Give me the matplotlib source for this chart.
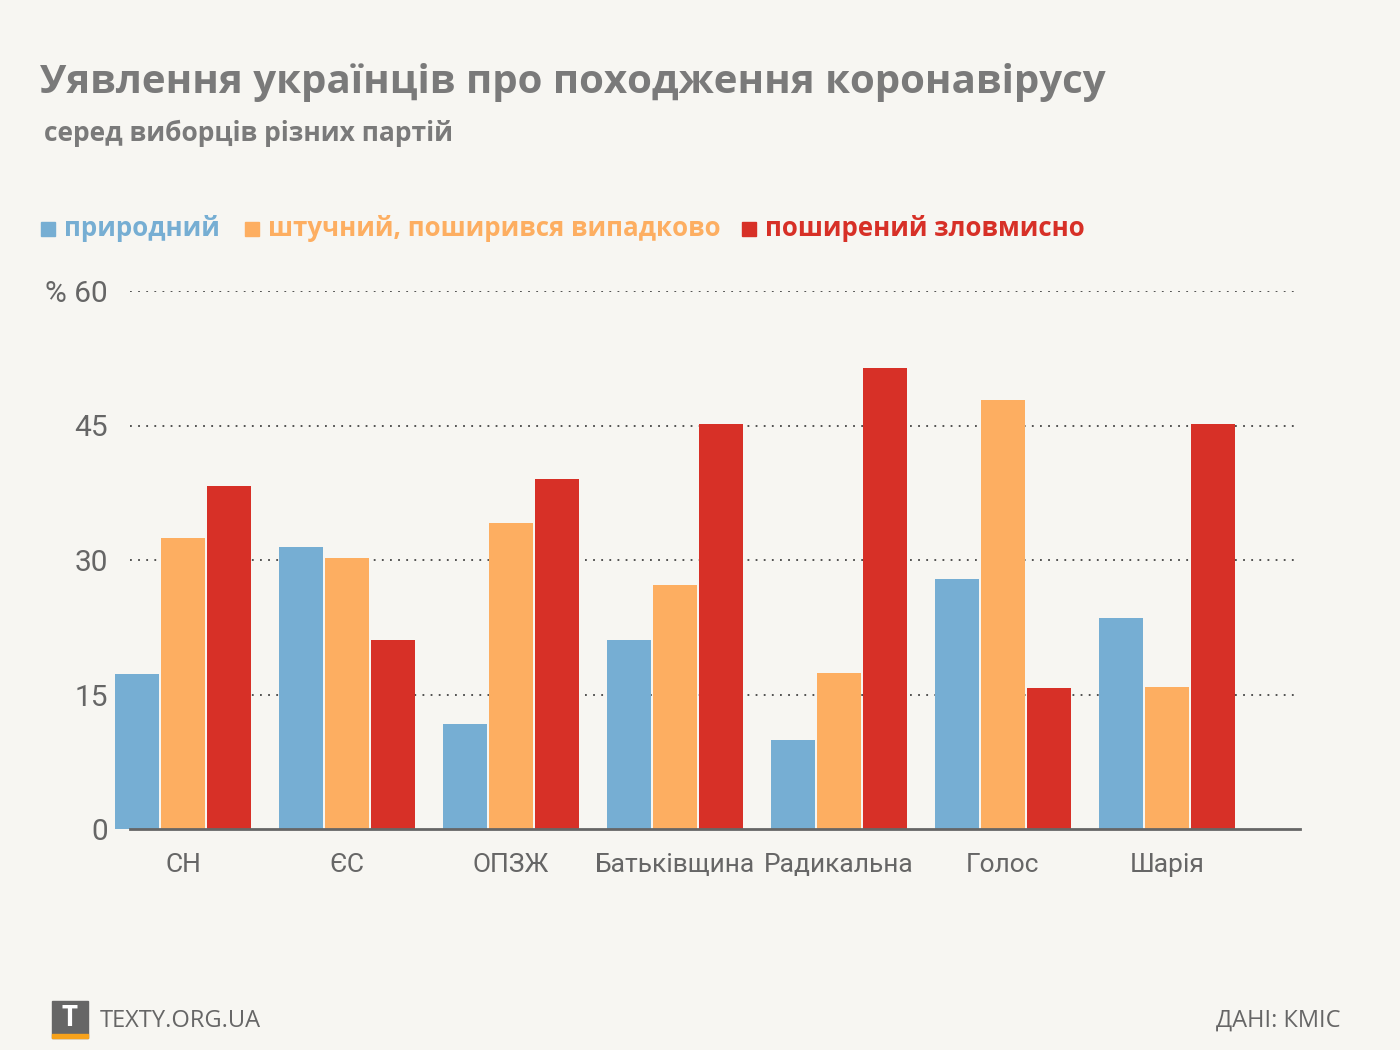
import matplotlib.pyplot as plt
import matplotlib.patches as mpatches
from matplotlib import font_manager
import numpy as np

# data
parties = ["СН", "ЄС", "ОПЗЖ", "Батьківщина", "Радикальна", "Голос", "Шарія"]
natural = [17.3, 31.4, 11.7, 21.1, 9.9, 27.9, 23.5]
artificial_accident = [32.5, 30.2, 34.1, 27.2, 17.4, 47.8, 15.8]
spread_on_purpose = [38.3, 21.1, 39.0, 45.2, 51.4, 15.7, 45.2]
series_names = ["природний", "штучний, поширився випадково", "поширений зловмисно"]
y_ticks = [0, 15, 30, 45, 60]
y_tick_labels = ["0", "15", "30", "45", "% 60"]

BG = "#f7f6f2"
GREY = "#666666"
colors = ["#76aed3", "#fdae61", "#d73027"]

installed = {f.name for f in font_manager.fontManager.ttflist}
narrow = "Roboto" if "Roboto" in installed else "DejaVu Sans"
bold_font = "Open Sans" if "Open Sans" in installed else "DejaVu Sans"

W, H = 1400, 1050
fig = plt.figure(figsize=(14, 10.5), dpi=100, facecolor=BG)

# axes frame: x pixels 130..1300, y pixels 291..829
ax = fig.add_axes([130 / W, 1 - 829 / H, (1300 - 130) / W, (829 - 291) / H])
ax.set_facecolor(BG)

step = 164.0
x = np.arange(len(parties))
bw = 44 / step
off = 46 / step
for k, vals in enumerate([natural, artificial_accident, spread_on_purpose]):
    ax.bar(x + (k - 1) * off, vals, width=bw, color=colors[k], zorder=3, clip_on=False)

ax.set_xlim((130 - 183) / step, (1300 - 183) / step)
ax.set_ylim(0, 60)
ax.set_yticks(y_ticks)
ax.set_yticklabels(y_tick_labels, fontsize=21.5, color=GREY, family=narrow)
ax.set_xticks(x)
ax.set_xticklabels(parties, fontsize=19, color=GREY, family=narrow)
ax.tick_params(axis="both", length=0)
ax.tick_params(axis="y", pad=16)
ax.tick_params(axis="x", pad=17)
for t in y_ticks[1:]:
    ax.axhline(t, color="#444444", lw=1.3, ls=(0, (1, 3.5)), zorder=1)
for s in ["top", "right", "left"]:
    ax.spines[s].set_visible(False)
ax.spines["bottom"].set_color(GREY)
ax.spines["bottom"].set_linewidth(2)
ax.spines["bottom"].set_zorder(4)

# titles
fig.text(40 / W, 1 - 82 / H, "Уявлення українців про походження коронавірусу",
         fontsize=29, fontweight="bold", color="#7a7a7a", family=bold_font, va="center")
fig.text(44 / W, 1 - 133 / H, "серед виборців різних партій",
         fontsize=19, fontweight="bold", color="#7a7a7a", family=bold_font, va="center")

# legend
leg_x = [41, 245, 742]
for name, c, lx in zip(series_names, colors, leg_x):
    fig.patches.append(mpatches.Rectangle((lx / W, 1 - 236 / H), 14 / W, 14 / H,
                                          transform=fig.transFigure, color=c))
    fig.text((lx + 23) / W, 1 - 229 / H, name, fontsize=18.6, fontweight="bold",
             color=c, family=bold_font, va="center")

# footer
fig.patches.append(mpatches.Rectangle((52 / W, 1 - 1038 / H), 36 / W, 37 / H,
                                      transform=fig.transFigure, color=GREY))
fig.patches.append(mpatches.Rectangle((52 / W, 1 - 1038 / H), 36 / W, 4 / H,
                                      transform=fig.transFigure, color="#f7a21b"))
fig.text(70 / W, 1 - 1018 / H, "T", fontsize=20, fontweight="bold", color="white",
         ha="center", va="center", family=bold_font)
fig.text(100 / W, 1 - 1021 / H, "TEXTY.ORG.UA", fontsize=17, color=GREY,
         va="center", family=bold_font)
fig.text(1340 / W, 1 - 1021 / H, "ДАНІ: КМІС", fontsize=17, color=GREY,
         va="center", ha="right", family=bold_font)

fig.savefig("out.png", dpi=100, facecolor=BG)
